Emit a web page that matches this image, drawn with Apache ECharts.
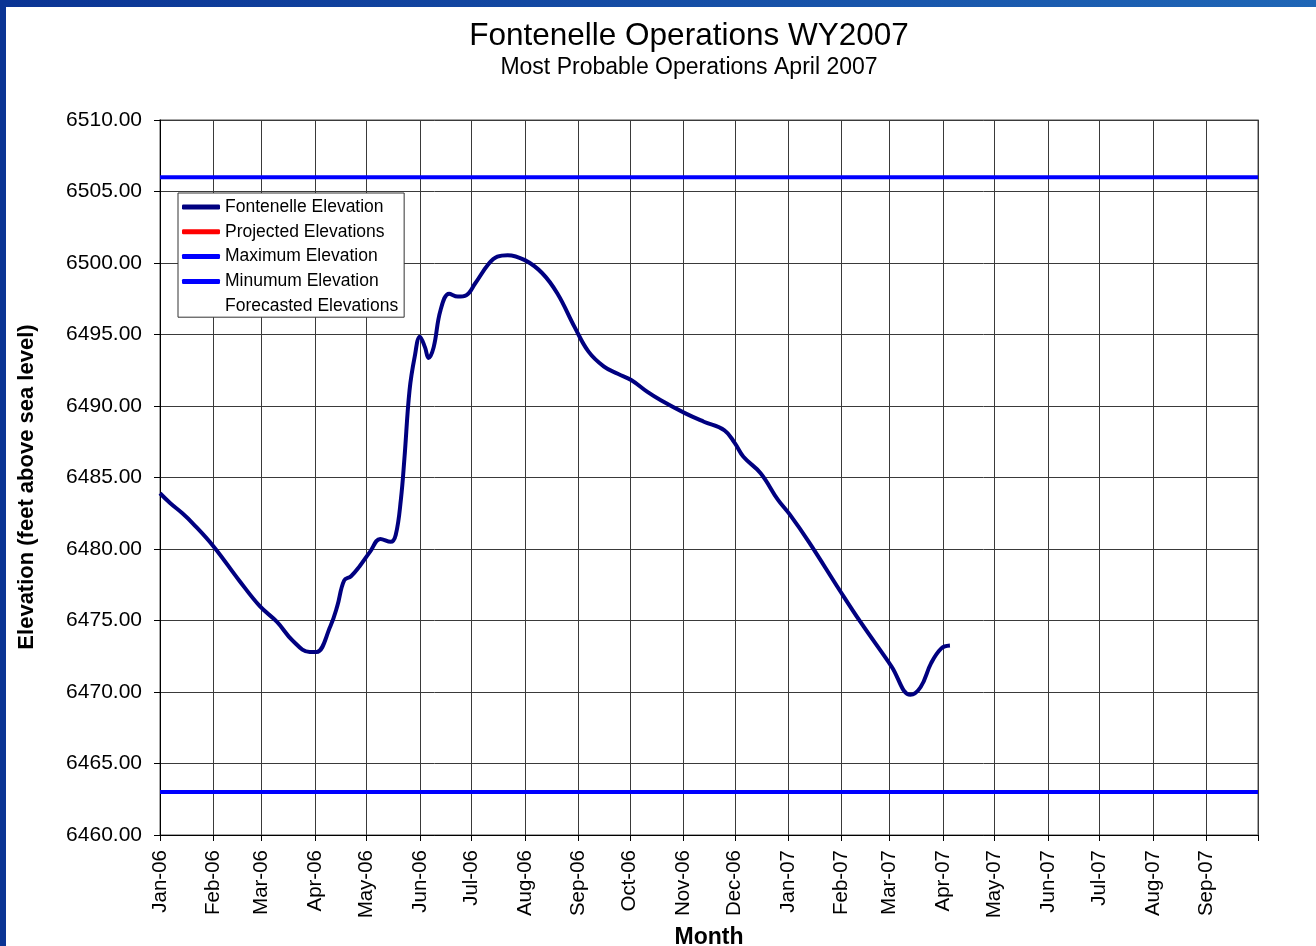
<!DOCTYPE html>
<html>
<head>
<meta charset="utf-8">
<title>Fontenelle Operations WY2007</title>
<script src="https://cdn.jsdelivr.net/npm/echarts@6/dist/echarts.min.js"></script>
<style>
  html, body { margin: 0; padding: 0; background: #fff; }
  #chart { width: 1316px; height: 946px; }
</style>
</head>
<body>
<div id="chart"></div>
<script>
// elevation readings (feet above sea level)
const dates = [
  '2006-01-01', '2006-01-07', '2006-01-14', '2006-01-20', '2006-02-01', '2006-02-16',
  '2006-02-28', '2006-03-10', '2006-03-19', '2006-03-29', '2006-04-02', '2006-04-10',
  '2006-04-14', '2006-04-18', '2006-04-22', '2006-04-27', '2006-05-03', '2006-05-09',
  '2006-05-15', '2006-05-18', '2006-05-21', '2006-05-23', '2006-05-26', '2006-05-29',
  '2006-06-01', '2006-06-04', '2006-06-06', '2006-06-09', '2006-06-13', '2006-06-18',
  '2006-06-23', '2006-06-28', '2006-07-03', '2006-07-11', '2006-07-16', '2006-07-22',
  '2006-08-01', '2006-08-11', '2006-08-20', '2006-08-30', '2006-09-07', '2006-09-16',
  '2006-09-24', '2006-10-02', '2006-10-11', '2006-10-19', '2006-11-02', '2006-11-13',
  '2006-11-25', '2006-12-01', '2006-12-06', '2006-12-16', '2006-12-26', '2007-01-02',
  '2007-01-13', '2007-01-31', '2007-02-12', '2007-03-02', '2007-03-13', '2007-03-19',
  '2007-03-25', '2007-03-31', '2007-04-05'
];
const elevation = [
  6483.9, 6483.2, 6482.5, 6481.8, 6480.2, 6477.8,
  6476.0, 6474.9, 6473.6, 6472.8, 6472.8, 6474.6,
  6476.0, 6477.8, 6478.1, 6478.8, 6479.8, 6480.7,
  6480.5, 6481.0, 6483.5, 6486.3, 6491.1, 6493.45,
  6494.85, 6494.1, 6493.35, 6494.1, 6496.7, 6497.85,
  6497.65, 6497.75, 6498.55, 6499.95, 6500.45, 6500.55,
  6500.2, 6499.3, 6497.85, 6495.5, 6493.8, 6492.75,
  6492.25, 6491.8, 6491.0, 6490.4, 6489.5, 6488.9,
  6488.3, 6487.4, 6486.45, 6485.3, 6483.45, 6482.4,
  6480.5, 6477.1, 6474.9, 6471.8, 6469.8, 6470.35,
  6472.0, 6473.05, 6473.25
];
const maxElevation = 6506;
const minElevation = 6463;
const axisStart = '2006-01-01';
const axisEnd = '2007-10-01';
const monthNames = ['Jan', 'Feb', 'Mar', 'Apr', 'May', 'Jun', 'Jul', 'Aug', 'Sep', 'Oct', 'Nov', 'Dec'];

const font = '"Liberation Sans", Arial, sans-serif';
const chart = echarts.init(document.getElementById('chart'));

const option = {
  backgroundColor: '#fff',
  animation: false,
  textStyle: { fontFamily: font },
  graphic: [
    {
      type: 'rect', left: 0, top: 0, z: 100,
      shape: { width: 1316, height: 7 },
      style: {
        fill: new echarts.graphic.LinearGradient(0, 0, 1, 0, [
          { offset: 0, color: '#0b3494' },
          { offset: 1, color: '#1f66b6' }
        ])
      }
    },
    { type: 'rect', left: 0, top: 0, z: 100, shape: { width: 6, height: 946 }, style: { fill: '#0b3494' } },
    {
      type: 'text', x: 689, y: 36, z: 50,
      style: { text: 'Fontenelle Operations WY2007', font: '31.5px ' + font, fill: '#000', textAlign: 'center', textVerticalAlign: 'middle' }
    },
    {
      type: 'text', x: 689, y: 68, z: 50,
      style: { text: 'Most Probable Operations April 2007', font: '23px ' + font, fill: '#000', textAlign: 'center', textVerticalAlign: 'middle' }
    },
    {
      type: 'text', x: 27, y: 487, z: 50, rotation: Math.PI / 2,
      style: { text: 'Elevation (feet above sea level)', font: 'bold 22px ' + font, fill: '#000', textAlign: 'center', textVerticalAlign: 'middle' }
    }
  ],
  legend: {
    orient: 'vertical',
    left: 178,
    top: 193,
    backgroundColor: '#fff',
    borderColor: '#333',
    borderWidth: 1,
    borderRadius: 0,
    padding: [5, 6, 2, 4],
    itemWidth: 38,
    itemHeight: 5,
    itemGap: 6.8,
    icon: 'roundRect',
    textStyle: { fontFamily: font, fontSize: 17.5, color: '#000' },
    data: ['Fontenelle Elevation', 'Projected Elevations', 'Maximum Elevation', 'Minumum Elevation', 'Forecasted Elevations']
  },
  grid: {
    left: 160, right: 58, top: 120, bottom: 111,
    outerBoundsMode: 'none',
    containLabel: false,
    show: true, borderColor: '#8a8a8a', borderWidth: 1.5
  },
  xAxis: {
    type: 'time',
    min: axisStart,
    max: axisEnd,
    minInterval: 28 * 86400000,
    maxInterval: 31 * 86400000,
    name: 'Month',
    nameLocation: 'middle',
    nameGap: 86,
    nameTextStyle: { fontFamily: font, fontSize: 23, fontWeight: 'bold', color: '#000' },
    axisLine: { show: true, lineStyle: { color: '#000', width: 1 } },
    axisTick: { show: true, inside: false, length: 6, lineStyle: { color: '#000' } },
    splitLine: { show: true, lineStyle: { color: '#3a3a3a', width: 1 } },
    axisLabel: {
      rotate: 90,
      margin: 15,
      fontFamily: font,
      fontSize: 20.5,
      color: '#000',
      hideOverlap: false,
      showMaxLabel: false,
      formatter: function (value) {
        const d = new Date(value);
        if (d.getFullYear() === 2007 && d.getMonth() === 9) return '';
        return monthNames[d.getMonth()] + '-' + String(d.getFullYear()).slice(2);
      }
    }
  },
  yAxis: {
    type: 'value',
    min: 6460,
    max: 6510,
    interval: 5,
    axisLine: { show: true, lineStyle: { color: '#000', width: 1 } },
    axisTick: { show: true, inside: false, length: 6, lineStyle: { color: '#000' } },
    splitLine: { show: true, lineStyle: { color: '#3a3a3a', width: 1 } },
    axisLabel: {
      margin: 18,
      fontFamily: font,
      fontSize: 21,
      color: '#000',
      formatter: function (v) { return v.toFixed(2); }
    }
  },
  series: [
    {
      name: 'Fontenelle Elevation',
      type: 'line',
      data: dates.map((d, i) => [d, elevation[i]]),
      color: '#000080',
      lineStyle: { width: 4, color: '#000080' },
      showSymbol: false,
      symbol: 'none',
      smooth: 0.4,
      z: 5
    },
    {
      name: 'Projected Elevations',
      type: 'line',
      data: [],
      color: '#ff0000',
      lineStyle: { width: 4, color: '#ff0000' },
      symbol: 'none'
    },
    {
      name: 'Maximum Elevation',
      type: 'line',
      data: [[axisStart, maxElevation], [axisEnd, maxElevation]],
      color: '#0000ff',
      lineStyle: { width: 4, color: '#0000ff' },
      symbol: 'none'
    },
    {
      name: 'Minumum Elevation',
      type: 'line',
      data: [[axisStart, minElevation], [axisEnd, minElevation]],
      color: '#0000ff',
      lineStyle: { width: 4, color: '#0000ff' },
      symbol: 'none'
    },
    {
      name: 'Forecasted Elevations',
      type: 'line',
      data: [],
      color: 'rgba(255,255,255,0)',
      lineStyle: { width: 0, color: 'rgba(255,255,255,0)' },
      symbol: 'none'
    }
  ]
};

chart.setOption(option);
</script>
</body>
</html>
